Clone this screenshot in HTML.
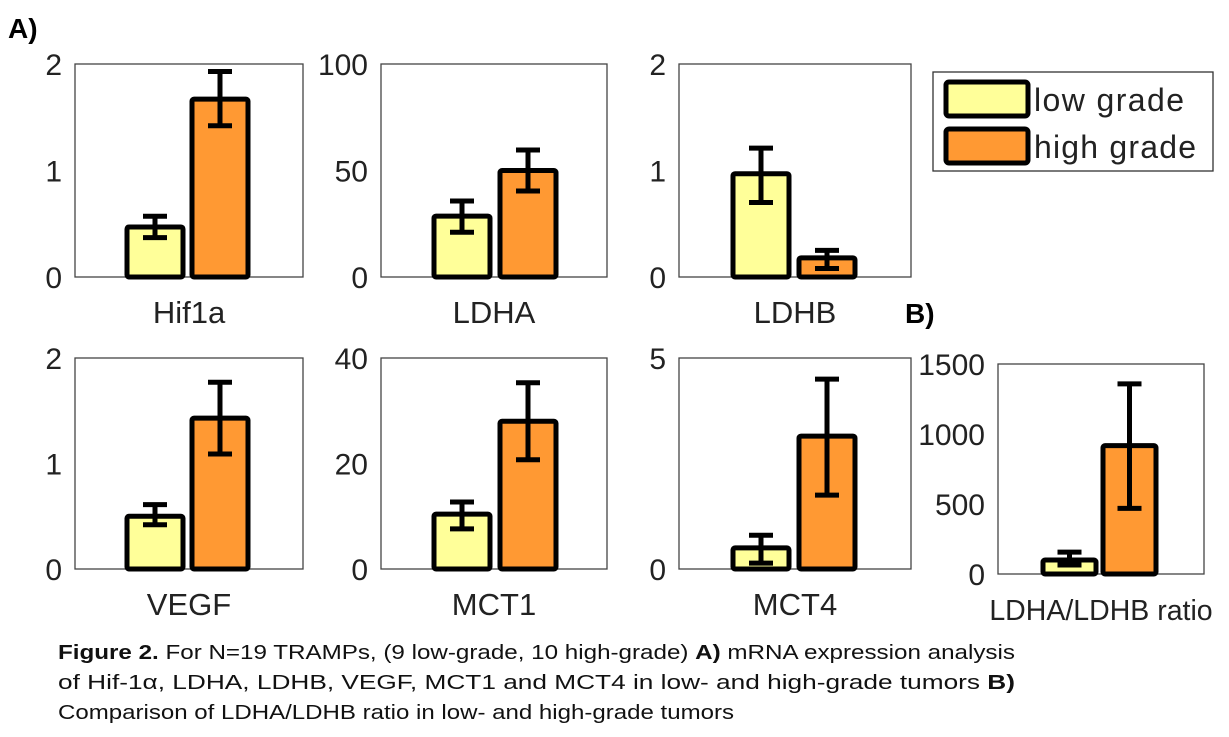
<!DOCTYPE html>
<html><head><meta charset="utf-8">
<style>
body{margin:0;background:#fff;width:1229px;height:737px;overflow:hidden;font-family:"Liberation Sans",Arial,sans-serif}
svg{position:absolute;left:0;top:0}
</style></head><body>
<svg id="fig" width="1229" height="737">
<g font-size="20" fill="#111">
<text x="58" y="659" textLength="957" lengthAdjust="spacingAndGlyphs"><tspan font-weight="bold">Figure 2.</tspan> For N=19 TRAMPs, (9 low-grade, 10 high-grade) <tspan font-weight="bold">A)</tspan> mRNA expression analysis</text>
<text x="58" y="689" textLength="957" lengthAdjust="spacingAndGlyphs">of Hif-1α, LDHA, LDHB, VEGF, MCT1 and MCT4 in low- and high-grade tumors <tspan font-weight="bold">B)</tspan></text>
<text x="58" y="719" textLength="676" lengthAdjust="spacingAndGlyphs">Comparison of LDHA/LDHB ratio in low- and high-grade tumors</text>
</g>
</svg>
<script>
const genes = ["Hif1a","LDHA","LDHB","VEGF","MCT1","MCT4","LDHA/LDHB ratio"];
const yMax = [2,100,2,2,40,5,1500];
const yTicks = [[0,1,2],[0,50,100],[0,1,2],[0,1,2],[0,20,40],[0,5],[0,500,1000,1500]];
const lowMean = [0.47,28.6,0.97,0.50,10.4,0.50,100];
const lowLo = [0.37,21,0.70,0.42,7.6,0.14,64];
const lowHi = [0.57,35.7,1.21,0.61,12.7,0.8,156];
const highMean = [1.67,50,0.18,1.43,28,3.15,917];
const highLo = [1.42,40.4,0.08,1.09,20.7,1.75,469];
const highHi = [1.93,59.6,0.25,1.77,35.3,4.5,1358];
// layout (not data)
const boxes=[[75,64,303,277],[381,64,607,277],[679,64,911,277],[75,358,303,569],[381,358,607,569],[679,358,911,569],[998,364,1204,574]];
const barX=[[127,192],[434,500],[733,799],[127,192],[434,500],[733,799],[1043,1103]];
const svg=document.getElementById('fig');const NS='http://www.w3.org/2000/svg';
function mk(t,a,p){const e=document.createElementNS(NS,t);for(const k in a)e.setAttribute(k,a[k]);(p||svg).appendChild(e);return e;}
function txt(x,y,s,size,anchor,w,p){const e=mk('text',{x:x,y:y,'font-size':size,'text-anchor':anchor||'start','font-weight':w||'normal',fill:'#222'},p);e.textContent=s;return e;}
genes.forEach((g,i)=>{
  const [x0,y0,x1,y1]=boxes[i];
  const gp=mk('g',{});
  
  
  const ys=v=>y1-(v/yMax[i])*(y1-y0);
  const fr=mk('rect',{x:x0,y:y0,width:x1-x0,height:y1-y0,fill:'none',stroke:'#444','stroke-width':1.3},gp);
  
  
  yTicks[i].forEach(t=>{const e=txt(x0-13,ys(t)+11,String(t),30,'end','normal',gp);
    
    });
  const lab=txt((x0+x1)/2,y1+46,g,i==6?28.5:31,'middle','normal',gp);
  
  
  const bw=i==6?53:56;
  const series=[[lowMean,lowLo,lowHi,'#ffff99','low'],[highMean,highLo,highHi,'#ff9933','high']];
  series.forEach((s,j)=>{
    const bx=barX[i][j];const top=ys(s[0][i]);
    const r=mk('rect',{x:bx,y:top,width:bw,height:y1-top,fill:s[3],stroke:'#000','stroke-width':5,rx:2},gp);
    
    
    const cx=bx+bw/2,lo=ys(s[1][i]),hi=ys(s[2][i]);
    const eb=mk('path',{d:`M${cx} ${lo}V${hi}M${cx-12} ${hi}H${cx+12}M${cx-12} ${lo}H${cx+12}`,stroke:'#000','stroke-width':5,fill:'none'},gp);
    
    
  });
});
const la=txt(8,38,'A)',28,'start','bold');la.setAttribute('fill','#000');
const lb=txt(905,323,'B)',28,'start','bold');lb.setAttribute('fill','#000');
const lg=mk('g',{});
mk('rect',{x:933,y:72,width:280,height:99,fill:'#fff',stroke:'#333','stroke-width':1.3},lg);
[['#ffff99','low grade',80],['#ff9933','high grade',127]].forEach(([c,t,y])=>{
  const sw=mk('rect',{x:946,y:y+2,width:82,height:34,fill:c,stroke:'#000','stroke-width':5,rx:3},lg);
  
  
  const e=txt(1034,y+31,t,32,'start','normal',lg);
  e.setAttribute('textLength',t=='low grade'?150:162);
  
  
});
</script>
</body></html>
